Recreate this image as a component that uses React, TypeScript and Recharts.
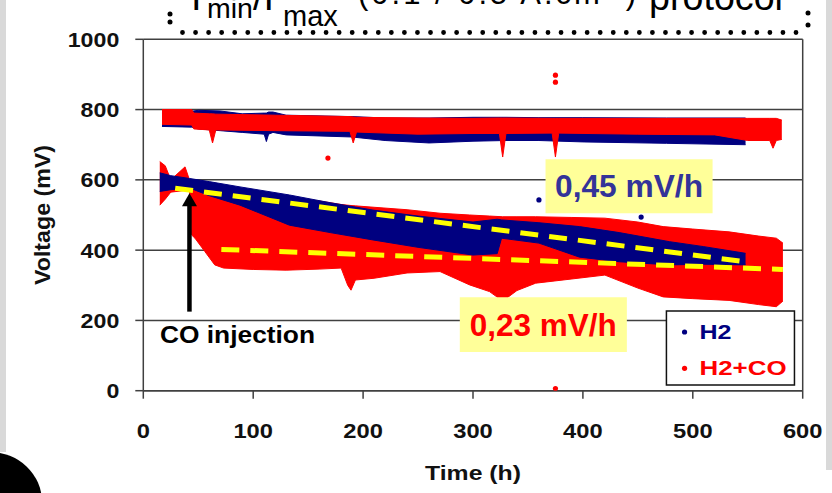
import {
  ComposedChart,
  Area,
  Line,
  Scatter,
  XAxis,
  YAxis,
  CartesianGrid,
  ReferenceLine,
  ReferenceArea,
  ReferenceDot,
  Label,
} from 'recharts';

const FONT = '"Liberation Sans", Arial, Helvetica, sans-serif';
const BLUE = '#000080';
const RED = '#ff0000';
const GRID = '#404040';
const YELLOW = '#ffff00';
const NOTE_BG = '#ffff99';

const timeTicks = [0, 100, 200, 300, 400, 500, 600];
const voltageTicks = [0, 200, 400, 600, 800, 1000];

// H2 - upper band (Imin steps)
const h2UpperT = [17, 44, 50, 70, 90, 110, 112, 114, 118, 130, 190, 220, 260, 300, 330, 360, 400, 476, 548];
const h2UpperMin = [752, 750, 745, 740, 735, 730, 709, 730, 735, 728, 722, 712, 705, 710, 712, 712, 708, 704, 700];
const h2UpperMax = [790, 795, 798, 796, 788, 790, 790, 793, 793, 784, 780, 776, 776, 778, 778, 777, 777, 776, 776];

// H2+CO - upper band
const coUpperT = [17, 44, 46, 60, 63, 66, 120, 188, 191, 194, 250, 300, 324, 327, 330, 372, 375, 378, 450, 520, 550, 570, 573, 576, 581];
const coUpperMin = [758, 756, 745, 742, 705, 742, 740, 738, 705, 736, 730, 732, 732, 665, 732, 733, 665, 733, 730, 728, 712, 712, 690, 712, 715];
const coUpperMax = [800, 800, 790, 788, 788, 787, 784, 780, 779, 778, 776, 775, 776, 776, 776, 775, 775, 775, 775, 775, 775, 775, 775, 775, 770];

// H2 - lower band (Imax steps)
const h2LowerT = [15, 25, 42, 60, 88, 133, 170, 209, 250, 300, 322, 326, 360, 397, 433, 479, 510, 548];
const h2LowerMin = [567, 572, 577, 555, 528, 471, 450, 429, 408, 386, 390, 434, 420, 380, 367, 358, 360, 358];
const h2LowerMax = [620, 612, 604, 595, 580, 557, 535, 514, 497, 480, 488, 486, 478, 467, 450, 424, 410, 391];

// H2+CO - lower band
const coLowerT = [15, 20, 25, 38, 42, 44, 47, 56, 65, 73, 100, 130, 160, 180, 186, 189, 193, 210, 240, 270, 297, 315, 327, 340, 357, 390, 420, 450, 473, 500, 533, 560, 576, 582];
const coLowerMin = [528, 545, 565, 570, 575, 443, 434, 396, 358, 349, 345, 343, 346, 349, 300, 286, 315, 320, 335, 339, 301, 282, 255, 285, 306, 318, 329, 292, 267, 262, 257, 245, 239, 255];
const coLowerMax = [652, 640, 600, 637, 600, 590, 588, 585, 580, 575, 565, 550, 540, 530, 528, 527, 526, 522, 515, 505, 500, 497, 495, 495, 495, 493, 491, 480, 467, 460, 452, 440, 434, 420];

// isolated points
const h2OutT = [360, 453];
const h2OutV = [543, 494];
const coOutT = [375, 375, 375, 168];
const coOutV = [898, 878, 6, 662];

// degradation trend lines
const h2TrendT = [29, 548];
const h2TrendV = [576, 367];
const coTrendT = [71, 582];
const coTrendV = [402, 345];

const band = (t: number[], lo: number[], hi: number[]) => t.map((x, i) => ({ t: x, v: [lo[i], hi[i]] }));
const pts = (t: number[], v: number[]) => t.map((x, i) => ({ t: x, v: v[i] }));

const h2Upper = band(h2UpperT, h2UpperMin, h2UpperMax);
const coUpper = band(coUpperT, coUpperMin, coUpperMax);
const h2Lower = band(h2LowerT, h2LowerMin, h2LowerMax);
const coLower = band(coLowerT, coLowerMin, coLowerMax);

const YTick = ({ x, y, payload }: any) => {
  const s = String(payload.value);
  return (
    <text x={x} y={y + 7.5} textAnchor="end" fontFamily={FONT} fontSize={21} fontWeight="bold" fill="#111"
      textLength={s.length * 12.9} lengthAdjust="spacingAndGlyphs">
      {s}
    </text>
  );
};

const XTick = ({ x, y, payload }: any) => {
  const s = String(payload.value);
  return (
    <text x={x} y={y + 15.3} textAnchor="middle" fontFamily={FONT} fontSize={21} fontWeight="bold" fill="#111"
      textLength={s.length * 13.2} lengthAdjust="spacingAndGlyphs">
      {s}
    </text>
  );
};

const dot = (color: string) => (p: any) => <circle cx={p.cx} cy={p.cy} r={2.6} fill={color} />;

const Arrow = (p: any) => {
  const x = p.x1;
  const tip = Math.min(p.y1, p.y2);
  const bottom = Math.max(p.y1, p.y2);
  return (
    <g>
      <line x1={x} y1={bottom} x2={x} y2={tip + 10} stroke="#000" strokeWidth={4.5} />
      <polygon points={`${x},${tip} ${x - 7.5},${tip + 13} ${x + 7.5},${tip + 13}`} fill="#000" />
    </g>
  );
};

const legendEntry = (label: string, color: string, width: number) => (p: any) => (
  <g>
    <circle cx={p.cx} cy={p.cy} r={2.6} fill={color} />
    <text x={p.cx + 15} y={p.cy + 6.7} fontFamily={FONT} fontSize={21} fontWeight="bold" fill={color}
      textLength={width} lengthAdjust="spacingAndGlyphs">
      {label}
    </text>
  </g>
);

const noteLabel = (text: string, color: string, width: number) => (p: any) => {
  const vb = p.viewBox;
  return (
    <text x={vb.x + vb.width / 2} y={vb.y + vb.height / 2 + 11} textAnchor="middle" fontFamily={FONT}
      fontSize={31} fontWeight="bold" fill={color} textLength={width} lengthAdjust="spacingAndGlyphs">
      {text}
    </text>
  );
};

function Title() {
  const row = { x1: 182.5, x2: 796, y: 32.5 };
  return (
    <svg width={832} height={45} style={{ position: 'absolute', left: 0, top: 0, overflow: 'hidden' }}>
      <g fontFamily={FONT} fill="#000">
        <text x={191} y={10} fontSize={38}>I</text>
        <text x={207} y={18} fontSize={28.5}>min</text>
        <text x={253} y={10} fontSize={38}>/I</text>
        <text x={283} y={26} fontSize={29}>max</text>
        <text x={358} y={4} fontSize={31} letterSpacing={3}>
          (0.1 / 0.5 A.cm
          <tspan dy={-12} fontSize={19}>-2</tspan>
          <tspan dy={12}>)</tspan>
        </text>
        <text x={649} y={10} fontSize={38} textLength={134} lengthAdjust="spacingAndGlyphs">protocol</text>
      </g>
      <line x1={row.x1} y1={row.y} x2={row.x2} y2={row.y} stroke="#000" strokeWidth={4.8}
        strokeLinecap="round" strokeDasharray={`0 ${(row.x2 - row.x1) / 47}`} />
      <circle cx={170} cy={14} r={2.5} fill="#000" />
      <circle cx={170} cy={22} r={2.5} fill="#000" />
      <circle cx={808} cy={13} r={2.5} fill="#000" />
      <circle cx={808} cy={25} r={2.5} fill="#000" />
    </svg>
  );
}

export default function App() {
  return (
    <div style={{ position: 'absolute', left: 0, top: 0, width: 832, height: 493, background: '#fff', overflow: 'hidden' }}>
      <div style={{ position: 'absolute', left: 0, top: 0, width: 6, height: 452, background: '#d9d9d9' }} />
      <div style={{ position: 'absolute', left: 826, top: 0, width: 6, height: 470, background: '#d9d9d9' }} />
      <div style={{ position: 'absolute', left: -62, top: 452, width: 104, height: 100, borderRadius: '50%', background: '#000' }} />
      <ComposedChart
        width={832}
        height={493}
        margin={{ top: 39.3, right: 29.3, bottom: 42.3, left: 23.3 }}
        style={{ position: 'absolute', left: 0, top: 0 }}
      >
        <CartesianGrid vertical={false} stroke={GRID} strokeWidth={1.5} />
        <XAxis
          type="number"
          dataKey="t"
          domain={[0, 600]}
          ticks={timeTicks}
          interval={0}
          height={60}
          tickSize={8}
          tickMargin={24}
          tick={<XTick />}
          axisLine={{ stroke: GRID, strokeWidth: 1.5 }}
          tickLine={{ stroke: GRID, strokeWidth: 1.5 }}
          allowDataOverflow
        >
          <Label
            content={(p: any) => (
              <text x={p.viewBox.x + p.viewBox.width / 2} y={480} textAnchor="middle" fontFamily={FONT}
                fontSize={21} fontWeight="bold" fill="#111" textLength={96} lengthAdjust="spacingAndGlyphs">
                Time (h)
              </text>
            )}
          />
        </XAxis>
        <YAxis
          type="number"
          domain={[0, 1000]}
          ticks={voltageTicks}
          interval={0}
          width={120}
          tickSize={8}
          tickMargin={16}
          tick={<YTick />}
          axisLine={{ stroke: GRID, strokeWidth: 1.5 }}
          tickLine={{ stroke: GRID, strokeWidth: 1.5 }}
          allowDataOverflow
        >
          <Label
            content={(p: any) => {
              const cy = p.viewBox.y + p.viewBox.height / 2;
              return (
                <text x={50} y={cy} transform={`rotate(-90 50 ${cy})`} textAnchor="middle" fontFamily={FONT}
                  fontSize={22} fontWeight="bold" fill="#111" textLength={140} lengthAdjust="spacingAndGlyphs">
                  Voltage (mV)
                </text>
              );
            }}
          />
        </YAxis>
        <ReferenceLine x={600} stroke={GRID} strokeWidth={1.5} />

        <Area data={h2Upper} dataKey="v" type="linear" stroke={BLUE} strokeWidth={1} fill={BLUE} fillOpacity={1}
          dot={false} activeDot={false} isAnimationActive={false} />
        <Area data={coUpper} dataKey="v" type="linear" stroke={RED} strokeWidth={1} fill={RED} fillOpacity={1}
          dot={false} activeDot={false} isAnimationActive={false} />
        <Area data={coLower} dataKey="v" type="linear" stroke={RED} strokeWidth={1} fill={RED} fillOpacity={1}
          dot={false} activeDot={false} isAnimationActive={false} />
        <Area data={h2Lower} dataKey="v" type="linear" stroke={BLUE} strokeWidth={1} fill={BLUE} fillOpacity={1}
          dot={false} activeDot={false} isAnimationActive={false} />

        <Scatter data={pts(h2OutT, h2OutV)} dataKey="v" shape={dot(BLUE)} isAnimationActive={false} />
        <Scatter data={pts(coOutT, coOutV)} dataKey="v" shape={dot(RED)} isAnimationActive={false} />

        <Line data={pts(h2TrendT, h2TrendV)} dataKey="v" type="linear" stroke={YELLOW} strokeWidth={5}
          strokeDasharray="18 11" dot={false} activeDot={false} isAnimationActive={false} />
        <Line data={pts(coTrendT, coTrendV)} dataKey="v" type="linear" stroke={YELLOW} strokeWidth={5}
          strokeDasharray="18 11" dot={false} activeDot={false} isAnimationActive={false} />

        <ReferenceLine segment={[{ x: 42, y: 225 }, { x: 42, y: 562 }]} shape={Arrow} />
        <ReferenceDot x={15.2} y={135} r={0}
          shape={(p: any) => (
            <text x={p.cx} y={p.cy} fontFamily={FONT} fontSize={23} fontWeight="bold" fill="#000"
              textLength={155} lengthAdjust="spacingAndGlyphs">
              CO injection
            </text>
          )}
        />

        <ReferenceArea x1={366} x2={518} y1={505} y2={659} fill={NOTE_BG} fillOpacity={1} stroke="none"
          label={noteLabel('0,45 mV/h', '#333399', 148)} />
        <ReferenceArea x1={288} x2={440} y1={110} y2={266} fill={NOTE_BG} fillOpacity={1} stroke="none"
          label={noteLabel('0,23 mV/h', RED, 147)} />

        <ReferenceArea x1={476} x2={592.5} y1={16.2} y2={226.8} fill="#fff" fillOpacity={1} stroke="#111"
          strokeWidth={1.5} />
        <ReferenceDot x={492.5} y={167} r={0} shape={legendEntry('H2', BLUE, 32)} />
        <ReferenceDot x={492.5} y={63.7} r={0} shape={legendEntry('H2+CO', RED, 87)} />
      </ComposedChart>
      <Title />
    </div>
  );
}
